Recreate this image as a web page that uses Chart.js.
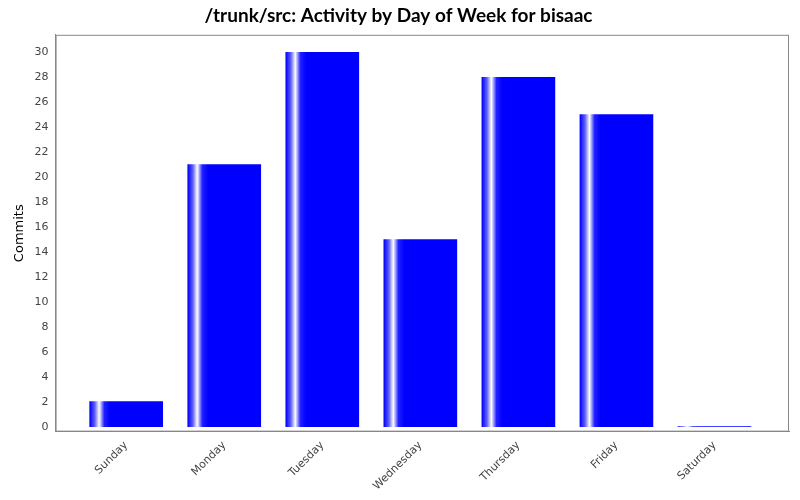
<!DOCTYPE html>
<html><head><meta charset="utf-8">
<script src="https://cdn.jsdelivr.net/npm/chart.js@4"></script>
<style>html,body{margin:0;background:#fff}#w{width:800px;height:500px}</style>
</head><body><div id="w"><canvas id="c"></canvas></div>
<script>
const categories=["Sunday","Monday","Tuesday","Wednesday","Thursday","Friday","Saturday"];
const commits=[2,21,30,15,28,25,0];
const yTicks=[0,2,4,6,8,10,12,14,16,18,20,22,24,26,28,30];
function grad(ctx){
  const ch=ctx.chart; if(!ch.chartArea) return "#0000ff";
  const x=ch.scales.x.getPixelForValue(ctx.dataIndex), w=73, l=x-w/2;
  const g=ch.ctx.createLinearGradient(l,0,l+w,0);
  g.addColorStop(0,"#0000ff");g.addColorStop(0.07,"#6060ff");g.addColorStop(0.13,"#ffffff");
  g.addColorStop(0.2,"#2020ff");g.addColorStop(0.28,"#0000ff");g.addColorStop(1,"#0000ff");
  return g;
}
new Chart(document.getElementById("c"),{
  type:"bar",
  data:{datasets:[{data:commits.map((v,i)=>({x:i,y:v})),backgroundColor:grad,barThickness:73}]},
  options:{responsive:true,maintainAspectRatio:false,animation:false,
    layout:{padding:{left:8,right:11,top:0,bottom:4}},
    plugins:{legend:{display:false},tooltip:{enabled:false},
      title:{display:true,text:"/trunk/src: Activity by Day of Week for bisaac",font:{family:"Lato, DejaVu Sans",size:19,weight:"bold"},color:"#000",padding:{top:4,bottom:8}}},
    scales:{
      x:{type:"linear",min:-0.72,max:6.76,offset:false,
        afterBuildTicks:a=>{a.ticks=categories.map((c,i)=>({value:i}));},
        ticks:{callback:v=>categories[v],maxRotation:45,minRotation:45,font:{family:"DejaVu Sans",size:11},color:"#444"},
        grid:{display:false,drawTicks:true,tickLength:4},border:{color:"#888"}},
      y:{min:-0.4,max:31.4,
        afterBuildTicks:a=>{a.ticks=yTicks.map(v=>({value:v}));},
        title:{display:true,text:"Commits",font:{family:"DejaVu Sans",size:13},color:"#000"},
        ticks:{font:{family:"DejaVu Sans",size:11},color:"#444",autoSkip:false},
        grid:{display:false,drawTicks:true,tickLength:4},border:{color:"#888"}}
    }
  },
  plugins:[{id:"frame",afterDraw(ch){const a=ch.chartArea,c=ch.ctx;c.save();c.strokeStyle="#888";c.lineWidth=1;c.strokeRect(a.left+0.5,a.top+0.5,a.width-1,a.height-1);c.restore();}}]
});
</script></body></html>
